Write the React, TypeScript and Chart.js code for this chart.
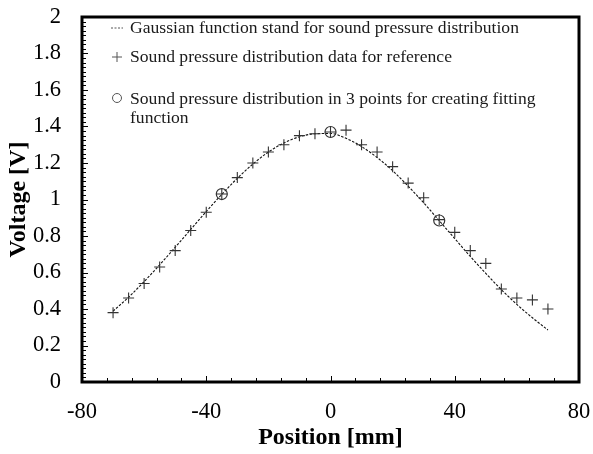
import { useEffect, useRef } from 'react';
import { Chart, registerables } from 'chart.js';

Chart.register(...registerables);

// ---- data ----
const positions = [-70, -65, -60, -55, -50, -45, -40, -35, -30, -25, -20, -15, -10, -5, 0, 5, 10, 15, 20, 25, 30, 35, 40, 45, 50, 55, 60, 65, 70];
const referenceVoltage = [0.38, 0.46, 0.54, 0.63, 0.72, 0.83, 0.93, 1.03, 1.12, 1.2, 1.26, 1.3, 1.35, 1.36, 1.37, 1.38, 1.3, 1.26, 1.18, 1.09, 1.01, 0.89, 0.82, 0.72, 0.65, 0.51, 0.46, 0.45, 0.4];
const fitPositions = [-35, 0, 35];
const fitVoltage = [1.03, 1.37, 0.885];
const gaussianPositions = [-70, -65, -60, -55, -50, -45, -40, -35, -30, -25, -20, -15, -10, -5, 0, 5, 10, 15, 20, 25, 30, 35, 40, 45, 50, 55, 60, 65, 70];
const gaussianVoltage = [0.388, 0.465, 0.55, 0.642, 0.738, 0.836, 0.934, 1.028, 1.116, 1.194, 1.26, 1.31, 1.344, 1.36, 1.362, 1.335, 1.29, 1.23, 1.158, 1.073, 0.982, 0.884, 0.786, 0.688, 0.595, 0.506, 0.425, 0.352, 0.285];

const xTickValues = [-80, -40, 0, 40, 80];
const yTickValues = [0, 0.2, 0.4, 0.6, 0.8, 1, 1.2, 1.4, 1.6, 1.8, 2];
const xMinorStep = 8;
const yMinorStep = 0.025;

const legendLabels = [
  'Gaussian function stand for sound pressure distribution',
  'Sound pressure distribution data for reference',
  'Sound pressure distribution in 3 points for creating fitting function',
];

const SERIF = '"Liberation Serif", "Times New Roman", serif';

const framePlugin = {
  id: 'frameAndTicks',
  afterDraw(chart: any) {
    const { ctx, chartArea } = chart;
    const xs = chart.scales.x;
    const ys = chart.scales.y;
    const { left, right, top, bottom } = chartArea;
    ctx.save();
    // minor / major ticks, pointing inward
    ctx.strokeStyle = '#000';
    ctx.lineWidth = 1;
    ctx.beginPath();
    for (let v = xs.min; v <= xs.max + 1e-9; v += xMinorStep) {
      const px = Math.round(xs.getPixelForValue(v)) + 0.5;
      const major = xTickValues.some((t) => Math.abs(t - v) < 1e-6);
      const len = major ? 6 : 4;
      ctx.moveTo(px, bottom);
      ctx.lineTo(px, bottom - len);
    }
    for (let i = 0; ys.min + i * yMinorStep <= ys.max + 1e-9; i++) {
      const v = ys.min + i * yMinorStep;
      const py = Math.round(ys.getPixelForValue(v)) + 0.5;
      const major = yTickValues.some((t) => Math.abs(t - v) < 1e-6);
      const len = major ? 6 : 4;
      ctx.moveTo(left, py);
      ctx.lineTo(left + len, py);
    }
    ctx.stroke();
    // frame
    ctx.lineWidth = 3;
    ctx.strokeStyle = '#000';
    ctx.strokeRect(left, top, right - left, bottom - top);

    // legend
    const fontSize = 17.6;
    ctx.font = `${fontSize}px ${SERIF}`;
    ctx.textBaseline = 'alphabetic';
    ctx.textAlign = 'left';
    const symX = left + 35;
    const textX = left + 48;
    const maxW = right - textX - 8;
    const baselines = [top + 16, top + 45, top + 87];
    const lineGap = 19;
    legendLabels.forEach((label, i) => {
      const words = label.split(' ');
      const lines: string[] = [];
      let cur = '';
      words.forEach((w) => {
        const test = cur ? cur + ' ' + w : w;
        if (ctx.measureText(test).width > maxW && cur) {
          lines.push(cur);
          cur = w;
        } else cur = test;
      });
      if (cur) lines.push(cur);
      const by = baselines[i];
      ctx.fillStyle = '#1a1a1a';
      lines.forEach((ln, k) => ctx.fillText(ln, textX, by + k * lineGap));
      const cy = by - 5;
      ctx.strokeStyle = '#555';
      ctx.lineWidth = 1;
      ctx.beginPath();
      if (i === 0) {
        ctx.setLineDash([2, 1.5]);
        ctx.moveTo(symX - 6, cy);
        ctx.lineTo(symX + 6, cy);
        ctx.stroke();
        ctx.setLineDash([]);
      } else if (i === 1) {
        ctx.moveTo(symX - 5, cy);
        ctx.lineTo(symX + 5, cy);
        ctx.moveTo(symX, cy - 5);
        ctx.lineTo(symX, cy + 5);
        ctx.stroke();
      } else {
        ctx.arc(symX, cy - 1, 4.5, 0, Math.PI * 2);
        ctx.stroke();
      }
    });
    ctx.restore();
  },
};

export default function App() {
  const ref = useRef<HTMLCanvasElement | null>(null);
  useEffect(() => {
    if (!ref.current) return;
    const chart = new Chart(ref.current, {
      type: 'line',
      data: {
        datasets: [
          {
            label: legendLabels[1],
            data: positions.map((x, i) => ({ x, y: referenceVoltage[i] })),
            showLine: false,
            pointStyle: 'cross',
            pointRadius: 5.5,
            pointBorderWidth: 1.1,
            pointBorderColor: '#333',
            borderColor: '#333',
            order: 1,
          },
          {
            label: legendLabels[2],
            data: fitPositions.map((x, i) => ({ x, y: fitVoltage[i] })),
            showLine: false,
            pointStyle: 'circle',
            pointRadius: 5.5,
            pointBorderWidth: 1.2,
            pointBorderColor: '#333',
            pointBackgroundColor: 'rgba(0,0,0,0)',
            borderColor: '#333',
            order: 2,
          },
          {
            label: legendLabels[0],
            data: gaussianPositions.map((x, i) => ({ x, y: gaussianVoltage[i] })),
            showLine: true,
            pointRadius: 0,
            borderColor: '#111',
            borderWidth: 1.1,
            borderDash: [2.5, 1.5],
            tension: 0.4,
            cubicInterpolationMode: 'monotone',
            fill: false,
            order: 3,
          },
        ],
      },
      options: {
        animation: false,
        responsive: false,
        devicePixelRatio: 1,
        layout: { padding: { left: 0, right: 14, top: 17, bottom: 0 } },
        plugins: { legend: { display: false }, tooltip: { enabled: false } },
        scales: {
          x: {
            type: 'linear',
            min: -80,
            max: 80,
            grid: { display: false, drawTicks: false },
            border: { display: false },
            afterBuildTicks: (s: any) => {
              s.ticks = xTickValues.map((value) => ({ value }));
            },
            afterFit: (s: any) => {
              s.height = 72;
              s.paddingLeft = 0;
              s.paddingRight = 0;
            },
            ticks: {
              color: '#000',
              padding: 17,
              maxRotation: 0,
              autoSkip: false,
              font: { family: SERIF, size: 22.5 },
              callback: (v: any) => String(v),
            },
            title: {
              display: true,
              text: 'Position [mm]',
              color: '#000',
              padding: { top: 0, bottom: 2 },
              font: { family: SERIF, size: 24, weight: 'bold' },
            },
          },
          y: {
            type: 'linear',
            min: 0,
            max: 2,
            grid: { display: false, drawTicks: false },
            border: { display: false },
            afterBuildTicks: (s: any) => {
              s.ticks = yTickValues.map((value) => ({ value }));
            },
            afterFit: (s: any) => {
              s.width = 82;
              s.paddingTop = 0;
              s.paddingBottom = 0;
            },
            ticks: {
              color: '#000',
              padding: 21,
              autoSkip: false,
              font: { family: SERIF, size: 22.5 },
              callback: (v: any) => String(Number(Number(v).toFixed(2))),
            },
            title: {
              display: true,
              text: 'Voltage [V]',
              color: '#000',
              padding: { top: 4, bottom: 0 },
              font: { family: SERIF, size: 24, weight: 'bold' },
            },
          },
        },
      } as any,
      plugins: [framePlugin],
    });
    return () => chart.destroy();
  }, []);
  return (
    <div style={{ position: 'absolute', left: 0, top: 0, width: 593, height: 454, background: '#fff' }}>
      <canvas ref={ref} width={593} height={454} style={{ display: 'block', width: 593, height: 454 }} />
    </div>
  );
}
